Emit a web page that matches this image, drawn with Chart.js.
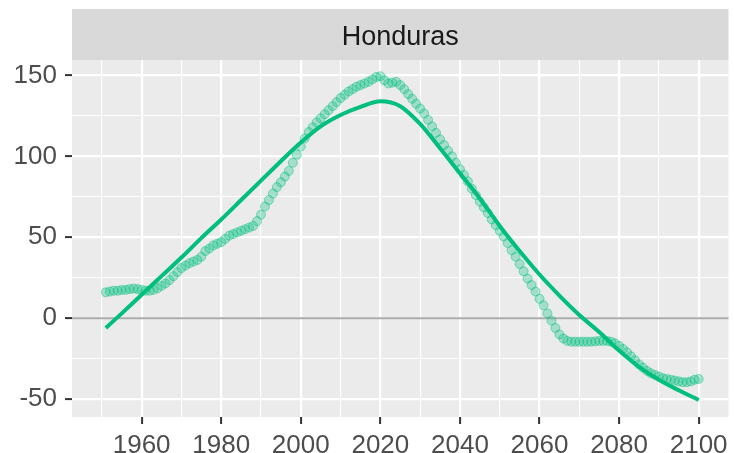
<!DOCTYPE html>
<html>
<head>
<meta charset="utf-8">
<script src="https://cdn.jsdelivr.net/npm/chart.js@4/dist/chart.umd.min.js"></script>
<style>
html,body{margin:0;padding:0;background:#fff;}
canvas{display:block;}
</style>
</head>
<body>
<canvas id="c" width="734" height="453"></canvas>
<script>
// ---- data ----
const panelTitle = "Honduras";
const startYear = 1951;
const pointValues = [
 16,16.5,17,17,17.5,17.5,18,18.3,18,17.5,            // 1951-1960
 17,17,17.5,18.5,20,21.5,23.5,26,28.5,31,            // 1961-1970
 32.5,34,35,36,38,41.5,43,45,46,47,                  // 1971-1980
 49,51,52,53,54,55,56,57,60,64,                      // 1981-1990
 69,73,77,81,84,87.5,91,96,101,106,                  // 1991-2000
 111,115,118,121,123.5,126,128.5,131,133.5,136,      // 2001-2010
 138,140,141.5,143,144,145,146,147.5,149,149.5,      // 2011-2020
 147,145,145.5,146,144,141.5,138.5,135.5,132.5,129.5,// 2021-2030
 126.5,122.5,118.5,114.5,110.5,107,103.5,100,96,92,  // 2031-2040
 88.5,84.5,80,76,72,68.5,65,61,57.5,54,              // 2041-2050
 50.5,46.5,42,38,33.5,29,24.5,20.5,16.5,12,          // 2051-2060
 8,3,-1.5,-6,-10,-12.5,-14,-14.5,-14.5,-14.5,        // 2061-2070
 -14.5,-14.5,-14.5,-14.3,-14,-14,-14,-14.5,-15.5,-17,// 2071-2080
 -19,-21,-23.5,-26,-28.5,-30.5,-32.5,-34,-35,-36,    // 2081-2090
 -37,-37.5,-38,-38.5,-39,-39.5,-39.5,-39,-38,-37.5   // 2091-2100
];
const smoothYears = [1951,1955,1960,1965,1970,1975,1980,1985,1990,1995,2000,2005,2010,2015,2020,2025,2030,2035,2040,2045,2050,2055,2060,2065,2070,2075,2080,2085,2090,2095,2100];
const smoothValues = [-6,3,14.5,26,37.5,49.5,61,73,85,97,108.5,118.5,125.5,130.5,134,131,120,105,89.5,74,57,41.5,27,14,2,-8.5,-20,-30,-38,-44.5,-50.5];
const yMajorTicks = [-50,0,50,100,150];
const yMinorTicks = [-25,25,75,125];
const xMajorTicks = [1960,1980,2000,2020,2040,2060,2080,2100];
const xMinorTicks = [1950,1970,1990,2010,2030,2050,2070,2090];
const refLineValue = 0;

// ---- style ----
const GREEN = '#00BF7D';
const FONT = '"Liberation Sans", Arial, sans-serif';

const pointData = pointValues.map((v, i) => ({x: startYear + i, y: v}));
const smoothData = smoothYears.map((yr, i) => ({x: yr, y: smoothValues[i]}));

const isMajor = (v, list) => list.includes(v);

const panelPlugin = {
  id: 'panel',
  beforeDraw(chart) {
    const {ctx, chartArea: a} = chart;
    ctx.save();
    ctx.fillStyle = '#FFFFFF';
    ctx.fillRect(0, 0, chart.width, chart.height);
    ctx.fillStyle = '#EBEBEB';
    ctx.fillRect(a.left, a.top, a.right - a.left, a.bottom - a.top);
    // strip
    ctx.fillStyle = '#D9D9D9';
    ctx.fillRect(a.left, 9, a.right - a.left, a.top - 9);
    ctx.fillStyle = '#1A1A1A';
    ctx.font = '27px ' + FONT;
    ctx.textAlign = 'center';
    ctx.textBaseline = 'middle';
    ctx.fillText(panelTitle, (a.left + a.right) / 2, (9 + a.top) / 2 + 3);
    ctx.restore();
  },
  beforeDatasetsDraw(chart) {
    const {ctx, chartArea: a, scales} = chart;
    const y = scales.y.getPixelForValue(refLineValue);
    ctx.save();
    ctx.strokeStyle = 'rgba(0,0,0,0.33)';
    ctx.lineWidth = 2;
    ctx.beginPath();
    ctx.moveTo(a.left, y);
    ctx.lineTo(a.right, y);
    ctx.stroke();
    ctx.restore();
  }
};

new Chart(document.getElementById('c'), {
  data: {
    datasets: [
      {
        type: 'line',
        data: smoothData,
        borderColor: GREEN,
        borderWidth: 4,
        pointRadius: 0,
        fill: false,
        cubicInterpolationMode: 'monotone',
        order: 0
      },
      {
        type: 'scatter',
        data: pointData,
        backgroundColor: 'rgba(0,191,125,0.3)',
        borderColor: 'rgba(0,191,125,0.45)',
        borderWidth: 1,
        pointRadius: 4.5,
        order: 1
      }
    ]
  },
  options: {
    responsive: false,
    animation: false,
    devicePixelRatio: 1,
    layout: {padding: {top: 60, right: 2, left: 0, bottom: 0}},
    plugins: {legend: {display: false}, tooltip: {enabled: false}},
    scales: {
      x: {
        type: 'linear',
        min: 1942.5,
        max: 2107.5,
        afterFit(s) { s.height = 36; },
        afterBuildTicks(s) {
          s.ticks = [...xMinorTicks, ...xMajorTicks].sort((a, b) => a - b).map(v => ({value: v}));
        },
        border: {display: false},
        grid: {
          color: '#FFFFFF',
          lineWidth: c => isMajor(c.tick.value, xMajorTicks) ? 2.2 : 1.1,
          tickColor: c => isMajor(c.tick.value, xMajorTicks) ? '#333333' : 'rgba(0,0,0,0)',
          tickWidth: 2,
          tickLength: 7,
          drawTicks: true
        },
        ticks: {
          autoSkip: false,
          maxRotation: 0,
          minRotation: 0,
          padding: 6,
          color: '#4D4D4D',
          font: {family: FONT, size: 26},
          callback: v => isMajor(v, xMajorTicks) ? String(v) : ''
        }
      },
      y: {
        type: 'linear',
        min: -61,
        max: 159.5,
        afterFit(s) { s.width = 72; },
        afterBuildTicks(s) {
          s.ticks = [...yMinorTicks, ...yMajorTicks].sort((a, b) => a - b).map(v => ({value: v}));
        },
        border: {display: false},
        grid: {
          color: '#FFFFFF',
          lineWidth: c => isMajor(c.tick.value, yMajorTicks) ? 2.2 : 1.1,
          tickColor: c => isMajor(c.tick.value, yMajorTicks) ? '#333333' : 'rgba(0,0,0,0)',
          tickWidth: 2,
          tickLength: 7,
          drawTicks: true
        },
        ticks: {
          autoSkip: false,
          padding: 8,
          color: '#4D4D4D',
          font: {family: FONT, size: 26},
          callback: v => isMajor(v, yMajorTicks) ? String(v) : ''
        }
      }
    }
  },
  plugins: [panelPlugin]
});
</script>
</body>
</html>
